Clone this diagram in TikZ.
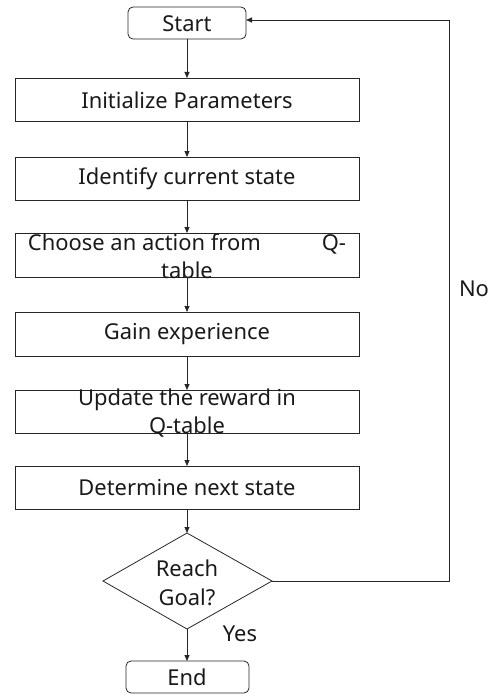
\documentclass[tikz,border=0pt]{standalone}
\usepackage{fontspec}
\setmainfont{Noto Sans}
\usetikzlibrary{arrows.meta,shapes.geometric}
\begin{document}
\begin{tikzpicture}[x=1bp,y=-1bp,
  line/.style={draw=black!85,line width=0.8bp},
  arr/.style={line,-{Triangle[length=6bp,width=5bp]}},
  box/.style={line},
  txt/.style={font=\fontsize{22}{24}\selectfont,inner sep=0pt,text=black!90}]
\useasboundingbox (0,0) rectangle (504,696);
% terminals
\draw[box,rounded corners=5bp] (128,7) rectangle (246,39);
\node[txt] (start) at (187,24) {Start};
\coordinate (startB) at (187,39);
\coordinate (startR) at (246,20);
% process boxes
\draw[box] (15,78) rectangle (359,121);
\node[txt] (init) at (187,100) {Initialize Parameters};
\draw[box] (15,157) rectangle (359,200);
\node[txt] (ident) at (187,179) {Identify current state};
\draw[box] (15,233) rectangle (359,277);
\node[txt] (choose1) at (187,244) {\makebox[318bp]{Choose an action from\hfill Q-}};
\node[txt] (choose2) at (187,270) {table};
\draw[box] (15,312) rectangle (359,356);
\node[txt] (gain) at (187,334.5) {Gain experience};
\draw[box] (15,390) rectangle (359,433);
\node[txt] (upd1) at (187,400) {Update the reward in};
\node[txt] (upd2) at (187,427) {Q-table};
\draw[box] (15,466) rectangle (359,509);
\node[txt] (det) at (187,488) {Determine next state};
% decision
\draw[box] (187,533) -- (272,581) -- (187,629) -- (103,581) -- cycle;
\node[txt] (goal1) at (187,568) {Reach};
\node[txt] (goal2) at (187,597) {Goal?};
\draw[box,rounded corners=5bp] (126,661) rectangle (249,693);
\node[txt] (end) at (187,677.5) {End};
% connectors
\coordinate (b1t) at (187,78); \coordinate (b1b) at (187,121);
\coordinate (b2t) at (187,157); \coordinate (b2b) at (187,200);
\coordinate (b3t) at (187,233); \coordinate (b3b) at (187,277);
\coordinate (b4t) at (187,312); \coordinate (b4b) at (187,356);
\coordinate (b5t) at (187,390); \coordinate (b5b) at (187,433);
\coordinate (b6t) at (187,466); \coordinate (b6b) at (187,509);
\coordinate (dT) at (187,533); \coordinate (dB) at (187,629); \coordinate (dR) at (272,581);
\coordinate (endT) at (187,661);
\coordinate (c1) at (449,581); \coordinate (c2) at (449,20);
\draw[arr] (startB) -- (b1t);
\draw[arr] (b1b) -- (b2t);
\draw[arr] (b2b) -- (b3t);
\draw[arr] (b3b) -- (b4t);
\draw[arr] (b4b) -- (b5t);
\draw[arr] (b5b) -- (b6t);
\draw[arr] (b6b) -- (dT);
\draw[arr] (dB) -- (endT);
\draw[arr] (dR) -- (c1) -- (c2) -- (startR);
\node[txt] (yes) at (240,634) {Yes};
\node[txt] (no) at (474,289) {No};
\end{tikzpicture}
\end{document}
